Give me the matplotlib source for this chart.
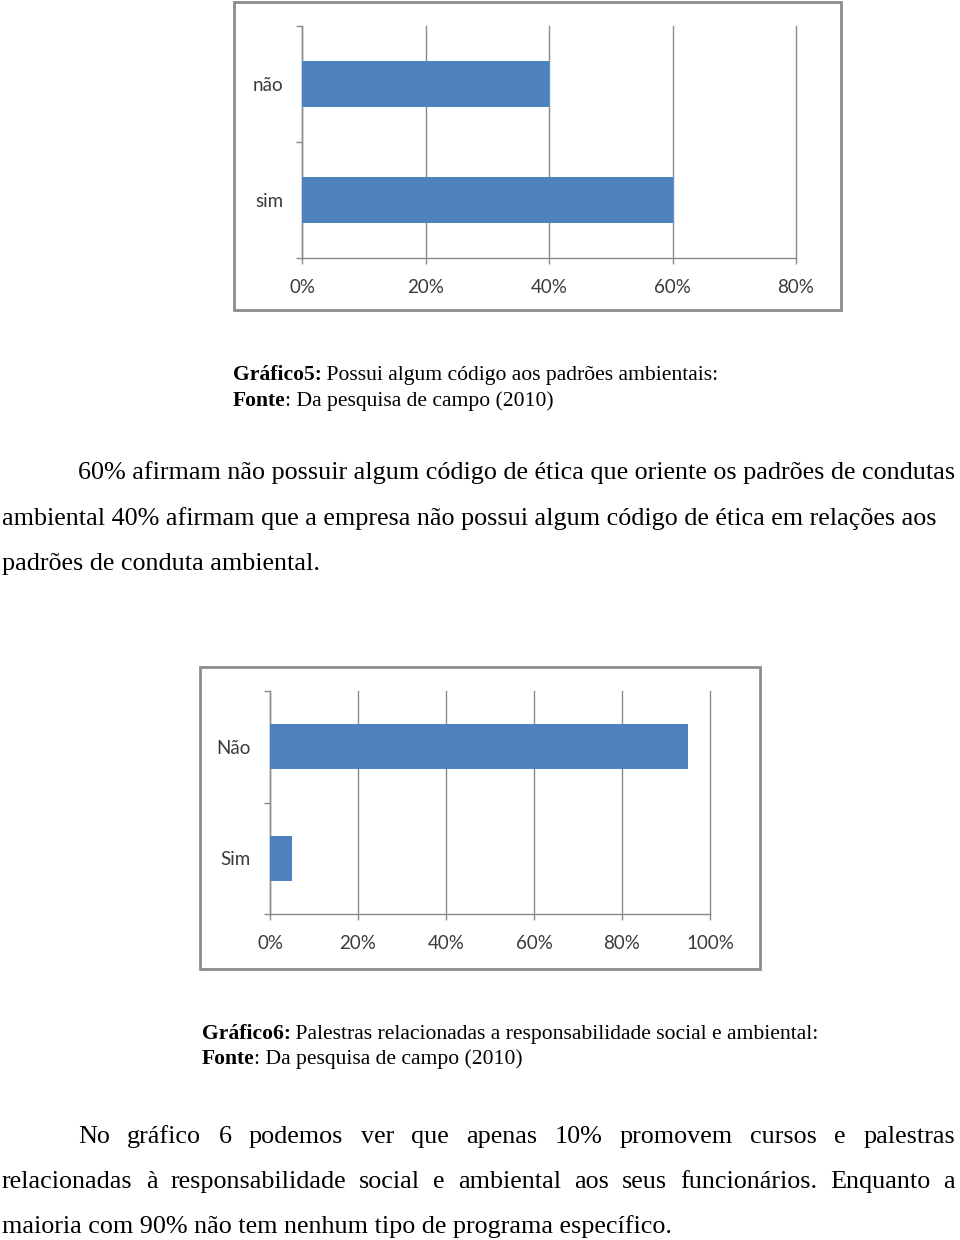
import matplotlib
matplotlib.use("Agg")
import matplotlib.pyplot as plt
from matplotlib.patches import Rectangle
from matplotlib.ticker import FixedLocator, PercentFormatter

W, H = 960, 1240

# chart data
cats1 = ["sim", "não"]
vals1 = [0.60, 0.40]
ticks1 = [0, 0.2, 0.4, 0.6, 0.8]

cats2 = ["Sim", "Não"]
vals2 = [0.05, 0.95]
ticks2 = [0, 0.2, 0.4, 0.6, 0.8, 1.0]

caption1 = ("Gráfico5:", " Possui algum código aos padrões ambientais:")
caption2 = ("Gráfico6:", " Palestras relacionadas a responsabilidade social e ambiental:")
source = ("Fonte", ": Da pesquisa de campo (2010)")

para1 = [
    "60% afirmam não possuir algum código de ética que oriente os padrões de condutas",
    "ambiental 40% afirmam que a empresa não possui algum código de ética em relações aos",
    "padrões de conduta ambiental.",
]
para2 = [
    "No gráfico 6 podemos ver que apenas 10% promovem cursos e palestras",
    "relacionadas à responsabilidade social e ambiental aos seus funcionários. Enquanto a",
    "maioria com 90% não tem nenhum tipo de programa específico.",
]

BAR = "#4F81BD"
GRID = "#8a8a8a"
LBL = "#3a3a3a"
SERIF = "Liberation Serif"
CAP = 15.6
BODY = 18.8

fig = plt.figure(figsize=(W / 100, H / 100), dpi=100)
fig.patch.set_facecolor("white")
renderer = fig.canvas.get_renderer()


def box(l, t, r, b):
    return [l / W, 1 - b / H, (r - l) / W, (b - t) / H]


def txt(x, y, s, size, weight="normal"):
    # +2 px: center of the serif text sits a bit lower in the scan
    return fig.text(x / W, 1 - (y + 2) / H, s, ha="left", va="center", fontsize=size,
                    fontweight=weight, family=SERIF, color="black")


def wid(t):
    return t.get_window_extent(renderer).width


def two_part(x, y, parts, size):
    t = txt(x, y, parts[0], size, "bold")
    txt(x + wid(t) - 1, y, parts[1], size)


def justified(x0, x1, y, s, size):
    words = s.split()
    objs = [txt(x0, y, w, size) for w in words]
    ws = [wid(o) for o in objs]
    gap = (x1 - x0 - sum(ws)) / (len(words) - 1)
    x = x0
    for o, w in zip(objs, ws):
        o.set_x(x / W)
        x += w + gap


def bar_chart(frame, area, cats, vals, ticks, bar_h, ypad):
    fig.add_artist(Rectangle((frame[0] / W, 1 - frame[3] / H),
                             (frame[2] - frame[0]) / W, (frame[3] - frame[1]) / H,
                             transform=fig.transFigure, fill=False,
                             edgecolor="#8c8c8c", lw=2))
    ax = fig.add_axes(box(*area))
    ax.barh(range(len(cats)), vals, height=bar_h, color=BAR, zorder=3)
    ax.set_xlim(ticks[0], ticks[-1])
    ax.set_ylim(-0.5, len(cats) - 0.5)
    ax.set_xticks(ticks)
    ax.xaxis.set_major_formatter(PercentFormatter(1.0, decimals=0))
    ax.set_yticks(range(len(cats)))
    ax.set_yticklabels(cats)
    ax.yaxis.set_minor_locator(FixedLocator([i - 0.5 for i in range(len(cats) + 1)]))
    ax.tick_params(axis="y", which="major", length=0, pad=ypad)
    ax.tick_params(axis="y", which="minor", length=4.5, color=GRID, width=1)
    ax.tick_params(axis="x", length=4, color=GRID, width=1, pad=11)
    for lab in ax.get_xticklabels() + ax.get_yticklabels():
        lab.set_family("Lato")
        lab.set_fontsize(13.5)
        lab.set_color(LBL)
    for s in ["top", "right"]:
        ax.spines[s].set_visible(False)
    for s in ["left", "bottom"]:
        ax.spines[s].set_color(GRID)
        ax.spines[s].set_linewidth(1)
    ax.grid(axis="x", color=GRID, lw=1, zorder=0)
    for gl in ax.get_xgridlines():
        gl.set_clip_on(False)
    ax.set_axisbelow(True)
    return ax


bar_chart((234, 2, 841, 310), (302, 26, 796, 258), cats1, vals1, ticks1, 0.39, 13.5)
two_part(233, 373, caption1, CAP)
two_part(233, 399, source, CAP)

txt(78, 471, para1[0], BODY)
txt(2, 517, para1[1], BODY)
txt(2, 562, para1[2], BODY)

bar_chart((200, 667, 760, 969), (270, 691, 710, 914), cats2, vals2, ticks2, 0.4, 14)
two_part(202, 1032, caption2, CAP)
two_part(202, 1057, source, CAP)

justified(78, 955, 1135, para2[0], BODY)
justified(2, 955, 1180, para2[1], BODY)
txt(2, 1225, para2[2], BODY)

fig.savefig("out.png", dpi=100, facecolor="white")
